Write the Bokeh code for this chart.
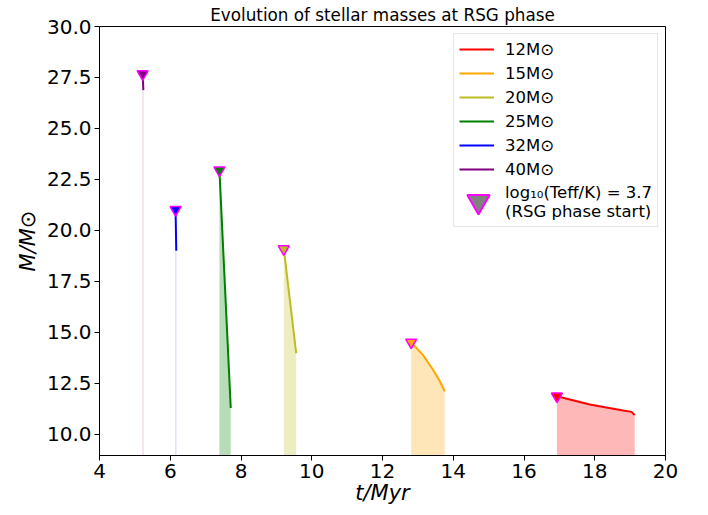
from bokeh.plotting import figure
from bokeh.models import ColumnDataSource, Legend, LegendItem, FixedTicker, NumeralTickFormatter
from bokeh.embed import file_html
from bokeh.resources import INLINE

# ---- data ----
labels = ["12M⊙", "15M⊙", "20M⊙", "25M⊙", "32M⊙", "40M⊙"]
colors = ["red", "orange", "#bcbd22", "green", "blue", "purple"]
marker_label = "log₁₀(Teff/K) = 3.7\n(RSG phase start)"

t12 = [16.93, 17.86, 18.80, 19.04, 19.13]
m12 = [11.86, 11.45, 11.16, 11.09, 10.93]
t15 = [12.81, 13.14, 13.43, 13.62, 13.76]
m15 = [14.50, 13.89, 13.16, 12.59, 12.10]
t20 = [9.21, 9.56]
m20 = [19.08, 13.97]
t25 = [7.39, 7.71]
m25 = [22.95, 11.28]
t32 = [6.15, 6.17]
m32 = [21.01, 19.00]
t40 = [5.22, 5.24]
m40 = [27.67, 26.88]

times = [t12, t15, t20, t25, t32, t40]
masses = [m12, m15, m20, m25, m32, m40]

x_ticks = [4, 6, 8, 10, 12, 14, 16, 18, 20]
y_ticks = [10.0, 12.5, 15.0, 17.5, 20.0, 22.5, 25.0, 27.5, 30.0]

FONT = "DejaVu Sans"

p = figure(width=700, height=507, x_range=(4, 20), y_range=(8.95, 30),
           output_backend="svg", toolbar_location=None,
           title="Evolution of stellar masses at RSG phase",
           min_border_left=99, min_border_right=35, min_border_top=10, min_border_bottom=40)

p.title.align = "center"
p.title.text_font = FONT
p.title.text_font_size = "16.8px"
p.title.text_font_style = "normal"
p.title.text_color = "black"
p.title.standoff = 4
p.title.offset = 0

p.grid.visible = False
p.outline_line_color = "black"
p.outline_line_width = 1

for ax in (p.xaxis, p.yaxis):
    ax.major_label_text_font = FONT
    ax.major_label_text_font_size = "20px"
    ax.major_label_text_color = "black"
    ax.axis_label_text_font = FONT
    ax.axis_label_text_font_size = "21px"
    ax.axis_label_text_font_style = "italic"
    ax.axis_label_text_color = "black"
    ax.axis_line_color = "black"
    ax.major_tick_line_color = "black"
    ax.major_tick_out = 5
    ax.major_tick_in = 0
    ax.minor_tick_line_color = None

p.xaxis.ticker = FixedTicker(ticks=x_ticks)
p.yaxis.ticker = FixedTicker(ticks=y_ticks)
p.yaxis.formatter = NumeralTickFormatter(format="0.0")
p.xaxis.axis_label = "t/Myr"
p.yaxis.axis_label = "M/M⊙"
p.xaxis.axis_label_standoff = 0
p.yaxis.axis_label_standoff = 4
p.xaxis.major_label_standoff = 3
p.yaxis.major_label_standoff = 3

items = []
for t, m, c, lab in zip(times, masses, colors, labels):
    src = ColumnDataSource(dict(t=t, m=m, base=[0] * len(t)))
    p.varea(x="t", y1="base", y2="m", source=src, fill_color=c, fill_alpha=0.28)
    r = p.line(x="t", y="m", source=src, line_color=c, line_width=2)
    items.append(LegendItem(label=lab, renderers=[r]))

# RSG phase start markers (first point of each track)
for t, m, c in zip(times, masses, colors):
    p.scatter(x=[t[0]], y=[m[0]], marker="inverted_triangle", size=11,
              fill_color=c, line_color="magenta", line_width=1.5)

nan = float("nan")
# invisible key for the text row of the legend
ghost = p.scatter(x=[nan], y=[nan], marker="inverted_triangle", size=22,
                  fill_alpha=0, line_alpha=0)
items.append(LegendItem(label=marker_label, renderers=[ghost]))

legend = Legend(items=items, location="top_right", margin=7,
                label_text_font=FONT, label_text_font_size="16.5px",
                label_text_color="black",
                glyph_width=35, glyph_height=20, spacing=4, padding=5,
                label_standoff=11, border_line_color="#cccccc",
                background_fill_alpha=0.8)
p.add_layout(legend)

# big triangle key drawn by a second, frameless legend on top of the first
key = p.scatter(x=[nan], y=[nan], marker="inverted_triangle", size=22,
                fill_color="gray", line_color="magenta", line_width=2)
legend2 = Legend(items=[LegendItem(label=" ", renderers=[key])], location=(351, 226),
                 margin=0, padding=0, glyph_width=56, glyph_height=56,
                 label_standoff=0, label_text_font_size="1px",
                 border_line_color=None, background_fill_alpha=0)
p.add_layout(legend2)

open("out.html", "w").write(file_html(p, INLINE))
